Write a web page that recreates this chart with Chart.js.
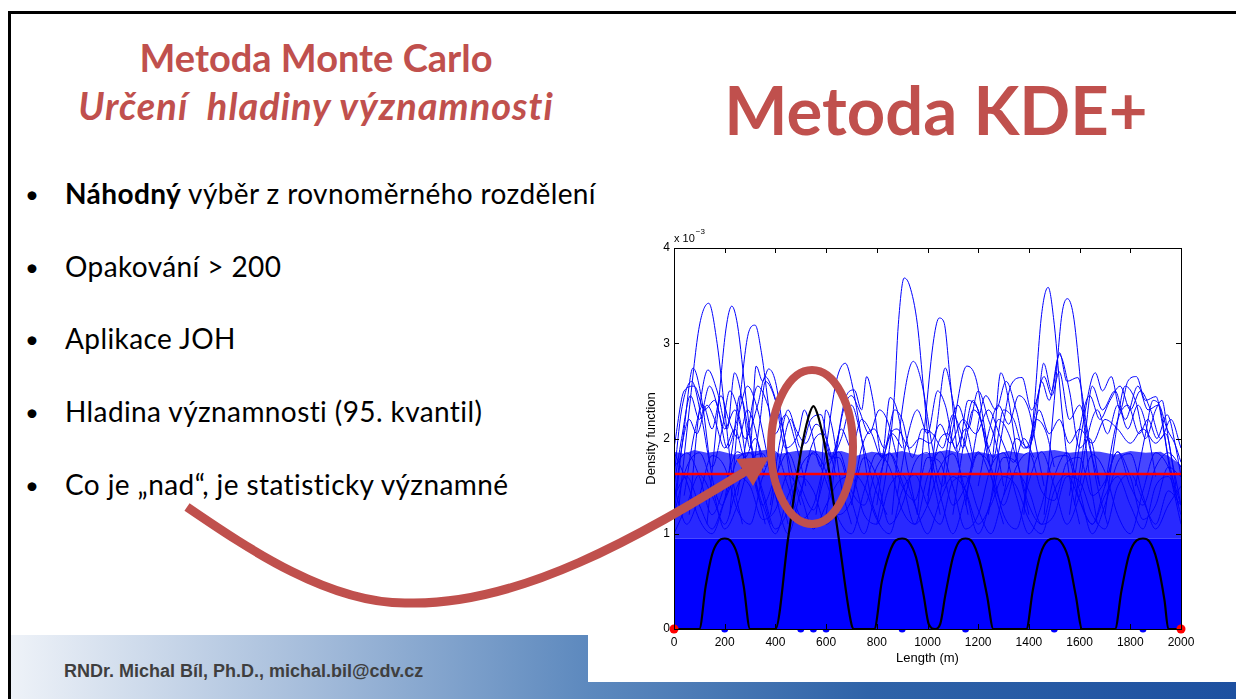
<!DOCTYPE html>
<html>
<head>
<meta charset="utf-8">
<script src="https://cdn.jsdelivr.net/npm/chart.js@4.4.1/dist/chart.umd.min.js"></script>
<style>
  html, body { margin: 0; padding: 0; }
  body { width: 1236px; height: 699px; position: relative; overflow: hidden; background: #fff; font-family: Lato, 'Open Sans', sans-serif; }
  .frame-top { position: absolute; left: 8px; top: 11px; width: 1228px; height: 3px; background: #000; }
  .frame-left { position: absolute; left: 8px; top: 11px; width: 3px; height: 688px; background: #000; }
  .footer { position: absolute; left: 11px; top: 635px; width: 1225px; height: 64px;
    background: linear-gradient(to right, #eef2f8 0%, #a3bbda 25%, #5d89be 47%, #2f63a8 70%, #1d50a0 100%); }
  .footer-text { position: absolute; left: 64px; top: 662px; font: bold 18px 'Liberation Sans', Arial, sans-serif; line-height: 1; color: #3f3f3f; white-space: nowrap; }
  .title { position: absolute; left: 16px; width: 600px; text-align: center; color: #c0504d; font-weight: bold; line-height: 1; white-space: pre; }
  .t1 { top: 38px; font-size: 38px; }
  .t2 { top: 86px; font-size: 38px; font-style: italic; letter-spacing: 1px; }
  .big { position: absolute; left: 636px; width: 600px; top: 76px; text-align: center; color: #c0504d; font-weight: bold; font-size: 67px; line-height: 1; white-space: nowrap; }
  .bullet { position: absolute; left: 0; font-size: 28px; line-height: 1; color: #000; white-space: nowrap; letter-spacing: 0.4px; }
  .bullet .dot { position: absolute; left: 25px; font-size: 24px; top: 3px; }
  .bullet .txt { position: absolute; left: 65px; }
  #chartBox { position: absolute; left: 588px; top: 225px; width: 648px; height: 457px; background: #fff; }
  svg.overlay { position: absolute; left: 0; top: 0; }
</style>
</head>
<body>
<div class="frame-top"></div>
<div class="frame-left"></div>
<div class="footer"></div>
<div class="footer-text">RNDr. Michal Bíl, Ph.D., michal.bil@cdv.cz</div>

<div class="title t1">Metoda Monte Carlo</div>
<div class="title t2">Určení  hladiny významnosti</div>
<div class="big">Metoda KDE+</div>

<div class="bullet" style="top:179px"><span class="dot">•</span><span class="txt"><b>Náhodný</b> výběr z rovnoměrného rozdělení</span></div>
<div class="bullet" style="top:252px"><span class="dot">•</span><span class="txt">Opakování &gt; 200</span></div>
<div class="bullet" style="top:324px"><span class="dot">•</span><span class="txt">Aplikace JOH</span></div>
<div class="bullet" style="top:397px"><span class="dot">•</span><span class="txt">Hladina významnosti (95. kvantil)</span></div>
<div class="bullet" style="top:470px"><span class="dot">•</span><span class="txt">Co je „nad“, je statisticky významné</span></div>

<div id="chartBox"><canvas id="kde" width="648" height="457"></canvas></div>

<svg class="overlay" width="1236" height="699">
  <path d="M187 507 C250 550 330 604 407 603 C520 606 640 536 746 471" stroke="#c0504d" stroke-width="9" fill="none"/>
  <polygon points="736,459 753,486 769,457" fill="#c0504d"/>
  <ellipse cx="812" cy="447" rx="41" ry="77" stroke="#c0504d" stroke-width="8" fill="none"/>
</svg>

<script>
// all densities in units of 10^-3
const threshold = 1.627;
const bandTop = 0.95;
const events = [200, 500, 550, 600, 900, 1150, 1500, 1850];
const endPoints = [0, 2000];

// observed KDE (black)
const kdeObserved = [[0,0],[100,0],[125,0.45],[150,0.78],[175,0.92],[200,0.95],[225,0.92],[250,0.78],[275,0.45],[300,0],
  [400,0],[450,0.95],[500,1.85],[530,2.22],[550,2.34],[570,2.22],[600,1.85],[650,0.95],[700,0.05],[710,0],
  [790,0],[820,0.5],[850,0.8],[875,0.93],[900,0.95],[925,0.92],[955,0.75],[985,0.35],[1005,0.05],[1030,0],[1050,0.05],
  [1070,0.35],[1100,0.75],[1125,0.92],[1150,0.95],[1175,0.92],[1205,0.72],[1235,0.35],[1260,0],
  [1390,0],[1415,0.4],[1445,0.78],[1475,0.93],[1500,0.95],[1525,0.92],[1555,0.75],[1585,0.35],[1610,0],
  [1740,0],[1765,0.4],[1795,0.78],[1825,0.93],[1850,0.95],[1875,0.92],[1905,0.72],[1935,0.3],[1950,0],[2000,0]];

// upper edge of the dense mesh of simulated curves
const meshTop = [[0,1.86],[40,1.84],[80,1.88],[130,1.85],[180,1.87],[240,1.83],[300,1.86],[360,1.88],[420,1.84],[480,1.87],
  [540,1.88],[600,1.85],[660,1.87],[720,1.82],[780,1.86],[840,1.84],[900,1.87],[960,1.83],[1020,1.85],[1080,1.88],
  [1140,1.84],[1200,1.86],[1260,1.83],[1320,1.87],[1380,1.84],[1440,1.86],[1500,1.88],[1560,1.85],[1620,1.87],
  [1680,1.86],[1740,1.83],[1800,1.87],[1860,1.85],[1920,1.86],[1960,1.8],[2000,1.72]];

// simulated curves that stick out of the mesh
const simHigh = [
  [[0,1.2],[40,2.1],[75,2.74],[110,2.4],[150,1.6],[190,1.3],[230,1.9],[260,2.45],[300,2.0],[340,1.5],[380,1.1]],
  [[20,1.3],[60,2.3],[100,3.18],[137,3.42],[170,3.0],[200,2.3],[230,1.6],[270,1.1]],
  [[130,1.1],[170,2.2],[205,3.15],[228,3.39],[250,3.2],[285,2.4],[320,1.6],[360,1.1]],
  [[220,1.2],[260,2.4],[295,3.12],[320,3.19],[345,2.9],[375,2.3],[410,1.6],[450,1.1]],
  [[60,1.2],[100,2.3],[134,2.72],[170,2.5],[210,2.1],[239,2.69],[270,2.4],[300,1.9],[324,2.76],[350,2.6],[373,2.73],[400,2.6],[430,2.1],[470,1.4],[510,1.1]],
  [[0,1.6],[30,2.3],[70,2.6],[110,2.2],[150,1.7],[190,2.1],[220,2.5],[260,2.2],[300,1.6],[340,2.2],[360,2.6],[400,2.4],[440,1.9],[490,2.05],[514,2.3],[540,2.1],[580,1.7],[599,2.3],[625,2.1],[660,1.5],[700,1.1]],
  [[560,1.2],[600,1.9],[640,2.6],[676,2.79],[700,2.6],[740,2.0],[775,1.4],[810,1.1]],
  [[600,1.2],[640,1.9],[680,2.45],[711,2.51],[740,2.3],[760,2.65],[785,2.4],[820,1.8],[852,2.43],[880,2.3],[920,1.7],[960,1.2]],
  [[800,1.1],[840,1.7],[869,2.43],[885,3.2],[908,3.685],[930,3.6],[960,3.2],[985,2.5],[1010,1.8],[1050,1.2]],
  [[860,1.2],[900,2.3],[944,2.81],[980,2.55],[1020,1.9],[1060,1.5],[1100,2.1],[1155,2.76],[1190,2.64],[1220,2.2],[1260,1.5],[1300,1.1]],
  [[960,1.2],[995,2.3],[1025,3.05],[1046,3.265],[1065,3.22],[1090,2.6],[1120,1.8],[1160,1.2]],
  [[1000,1.3],[1040,2.2],[1070,2.74],[1100,2.4],[1140,1.9],[1180,2.3],[1210,2.2],[1250,1.7],[1289,2.69],[1320,2.4],[1360,1.7],[1400,1.2]],
  [[1240,1.2],[1290,2.0],[1331,2.57],[1373,2.64],[1410,2.3],[1440,2.5],[1458,2.79],[1490,2.5],[1521,2.9],[1550,2.6],[1593,2.64],[1630,2.1],[1670,1.5],[1710,1.1]],
  [[1380,1.2],[1420,2.3],[1450,3.3],[1476,3.587],[1500,3.2],[1530,2.3],[1560,1.6],[1600,1.1]],
  [[1460,1.2],[1500,2.4],[1530,3.3],[1552,3.468],[1575,3.3],[1600,2.7],[1630,1.8],[1670,1.1]],
  [[1560,1.2],[1610,2.1],[1662,2.69],[1690,2.5],[1725,2.65],[1760,2.3],[1790,2.6],[1824,2.65],[1860,2.4],[1901,2.44],[1930,2.1],[1960,1.6],[2000,1.1]],
  [[1580,1.3],[1620,2.0],[1650,2.55],[1690,2.3],[1740,2.5],[1780,2.2],[1830,2.55],[1870,2.3],[1910,2.35],[1950,1.8],[1990,1.3]],
  [[1100,1.2],[1140,1.9],[1180,2.4],[1220,2.1],[1260,1.8],[1300,2.3],[1340,2.2],[1380,1.9],[1420,2.05],[1450,2.6],[1480,2.4],[1520,2.88],[1560,2.5],[1600,1.9],[1640,2.0],[1680,1.5]],
  [[700,1.3],[740,1.9],[790,2.1],[830,1.9],[870,2.3],[900,2.2],[940,1.8],[980,2.1],[1020,2.05],[1060,1.9],[1100,2.25],[1140,2.0],[1180,1.7]],
  [[0,1.9],[40,2.5],[80,2.55],[120,2.3],[160,2.4],[200,2.1],[240,2.3],[280,2.0],[330,2.35],[360,2.65],[390,2.5],[420,2.2],[460,1.7],[500,1.3]],
  [[380,1.2],[420,1.8],[460,2.2],[500,1.9],[540,2.2],[580,2.25],[620,1.8],[660,2.0],[700,2.35],[740,2.0],[790,1.5],[840,1.2]],
  [[0,1.3],[30,1.9],[60,2.2],[90,2.05],[130,2.35],[160,2.2],[200,1.9],[240,2.1],[280,1.8],[320,2.0],[360,1.7]],
  [[800,1.3],[840,1.95],[880,2.1],[930,1.9],[970,2.0],[1010,1.95],[1050,2.15],[1090,1.95],[1140,2.2],[1190,2.05],[1240,2.3],[1290,2.0],[1340,1.75],[1380,2.0],[1420,1.8]],
  [[1300,1.4],[1350,2.0],[1400,1.9],[1440,2.3],[1480,2.05],[1520,2.2],[1560,1.95],[1600,2.1],[1650,1.95],[1700,2.2],[1750,2.1],[1800,1.95],[1850,2.1],[1900,1.95],[1940,2.05],[1970,1.7],[2000,1.3]],
  [[1700,1.2],[1740,2.0],[1780,2.55],[1820,2.4],[1860,2.0],[1900,2.3],[1925,2.4],[1950,2.0],[1980,1.5]],
  [[500,1.4],[540,1.9],[580,2.05],[620,1.8],[660,2.1],[700,1.9],[740,2.2],[780,2.05],[820,1.8],[860,2.05],[900,1.9]],
  [[1000,1.4],[1050,2.0],[1080,2.05],[1120,1.85],[1160,2.4],[1200,2.3],[1240,1.9],[1280,2.2],[1320,2.05],[1360,1.7]],
  [[0,1.5],[30,2.0],[65,2.45],[100,2.2],[140,2.55],[175,2.3],[210,1.9],[250,2.2],[290,2.55],[330,2.3],[370,1.8],[410,1.3]],
  [[380,1.3],[420,2.0],[450,2.3],[480,2.1],[520,1.95],[560,2.15],[600,2.0],[640,1.6]],
  [[1150,1.3],[1190,2.0],[1230,2.45],[1270,2.3],[1310,2.6],[1350,2.3],[1390,1.9],[1430,2.2],[1470,2.05],[1500,1.7]],
  [[1560,1.4],[1600,2.1],[1640,2.45],[1680,2.2],[1720,2.4],[1760,2.55],[1800,2.3],[1840,2.5],[1880,2.3],[1920,2.0],[1960,2.2],[2000,1.9]],
  [[1700,1.5],[1745,2.15],[1790,2.35],[1835,2.05],[1870,2.2],[1905,2.0],[1945,2.25],[1980,1.9],[2000,1.6]],
  [[620,1.4],[660,2.2],[700,2.45],[730,2.3],[770,2.05],[810,2.3],[840,2.2],[880,1.8]],
  [[880,1.4],[920,2.0],[960,2.3],[1000,2.05],[1040,2.5],[1070,2.35],[1110,1.9],[1150,2.1],[1180,1.8]],
  [[1380,1.3],[1420,2.2],[1460,2.65],[1490,2.45],[1520,2.7],[1560,2.2],[1600,2.35],[1640,1.9],[1680,1.5]],
  [[40,1.4],[80,2.05],[115,2.35],[150,2.1],[185,2.45],[215,2.2],[255,2.0],[290,2.3],[320,2.1],[355,1.6]],
  [[250,1.4],[290,2.05],[330,2.55],[370,2.35],[400,2.05],[440,2.25],[480,1.95],[520,1.5]],
  [[1050,1.4],[1090,2.1],[1120,2.35],[1160,2.1],[1200,2.5],[1240,2.2],[1270,1.95],[1300,1.5]],
  [[1200,1.5],[1240,2.05],[1280,2.35],[1320,2.15],[1360,2.45],[1400,2.3],[1430,1.9],[1460,1.5]],
  [[1600,1.5],[1630,2.0],[1670,2.3],[1710,2.05],[1750,2.35],[1790,2.1],[1830,2.35],[1870,2.05],[1900,1.6]],
  [[1820,1.5],[1860,2.05],[1890,2.4],[1915,2.35],[1945,2.1],[1975,1.95],[2000,1.75]]
];

// simulated curves inside the mesh, sampled every 50 m
const gridX = [0,50,100,150,200,250,300,350,400,450,500,550,600,650,700,750,800,850,900,950,1000,
  1050,1100,1150,1200,1250,1300,1350,1400,1450,1500,1550,1600,1650,1700,1750,1800,1850,1900,1950,2000];
const simMid = [
  [1.86,1.55,1.15,1.0,1.35,1.78,1.85,1.45,1.05,1.25,1.7,1.84,1.55,1.15,1.0,1.45,1.84,1.7,1.25,1.1,1.6,1.86,1.5,1.05,1.2,1.7,1.85,1.4,1.0,1.3,1.8,1.82,1.35,1.1,1.5,1.86,1.6,1.15,1.3,1.7,1.6],
  [1.2,1.7,1.85,1.5,1.05,1.3,1.75,1.84,1.4,1.0,1.45,1.86,1.65,1.2,1.35,1.8,1.6,1.1,1.3,1.75,1.85,1.4,1.0,1.4,1.84,1.7,1.2,1.05,1.55,1.86,1.5,1.1,1.4,1.83,1.65,1.2,1.0,1.45,1.85,1.7,1.3],
  [1.5,1.1,1.4,1.82,1.7,1.25,1.1,1.6,1.86,1.5,1.15,1.3,1.75,1.8,1.35,1.0,1.5,1.85,1.55,1.1,1.3,1.7,1.84,1.45,1.0,1.35,1.8,1.75,1.3,1.1,1.6,1.85,1.45,1.0,1.3,1.75,1.84,1.4,1.05,1.3,1.5],
  [1.0,1.3,1.62,1.4,1.1,1.5,1.65,1.3,1.0,1.4,1.6,1.45,1.1,1.3,1.64,1.5,1.15,1.0,1.45,1.62,1.3,1.1,1.55,1.6,1.25,1.0,1.4,1.64,1.45,1.1,1.2,1.6,1.55,1.2,1.05,1.5,1.63,1.35,1.1,1.45,1.3],
  [1.4,1.6,1.3,1.05,1.35,1.6,1.5,1.15,1.25,1.62,1.4,1.05,1.3,1.55,1.6,1.2,1.1,1.5,1.62,1.3,1.0,1.35,1.6,1.45,1.1,1.3,1.6,1.5,1.15,1.0,1.45,1.62,1.35,1.1,1.4,1.6,1.3,1.05,1.5,1.6,1.2],
  [1.7,1.85,1.6,1.2,1.5,1.86,1.7,1.3,1.6,1.85,1.5,1.25,1.65,1.86,1.45,1.3,1.7,1.84,1.5,1.35,1.8,1.75,1.3,1.5,1.86,1.6,1.3,1.7,1.85,1.45,1.35,1.75,1.8,1.4,1.55,1.86,1.5,1.3,1.7,1.85,1.7]
];

const xTicksMax = 2000, xStep = 200, yMax = 4, yStep = 1;

const pts = arr => arr.map(p => ({ x: p[0], y: p[1] }));
const curveStyle = { borderColor: '#0000ff', borderWidth: 1, pointRadius: 0, cubicInterpolationMode: 'monotone', fill: false, order: 3 };

const datasets = [];
datasets.push({ data: events.map(x => ({ x, y: 0 })), showLine: false, pointRadius: 3.5, pointBackgroundColor: '#0000ff', pointBorderWidth: 0, clip: false, order: 0 });
datasets.push({ data: endPoints.map(x => ({ x, y: 0 })), showLine: false, pointRadius: 4.5, pointBackgroundColor: '#ff0000', pointBorderWidth: 0, clip: false, order: 0 });
datasets.push({ data: [{ x: 0, y: threshold }, { x: xTicksMax, y: threshold }], borderColor: '#ff0000', borderWidth: 2.5, pointRadius: 0, order: 1 });
datasets.push({ data: pts(kdeObserved), borderColor: '#000', borderWidth: 2.2, pointRadius: 0, cubicInterpolationMode: 'monotone', order: 2 });
simHigh.forEach(c => datasets.push(Object.assign({ data: pts(c) }, curveStyle)));
simMid.forEach(c => datasets.push(Object.assign({ data: gridX.map((x, i) => ({ x, y: c[i] })) }, curveStyle)));
// mesh above the threshold is a little thinner than below it
datasets.push({ data: pts(meshTop), borderWidth: 0, pointRadius: 0, fill: { value: threshold }, backgroundColor: 'rgba(0,0,255,0.72)', order: 4 });
datasets.push({ data: [{ x: 0, y: threshold }, { x: xTicksMax, y: threshold }], borderWidth: 0, pointRadius: 0, fill: { value: bandTop }, backgroundColor: 'rgba(0,0,255,0.84)', order: 4 });
datasets.push({ data: [{ x: 0, y: bandTop }, { x: xTicksMax, y: bandTop }], borderWidth: 0, pointRadius: 0, fill: 'origin', backgroundColor: '#0000ff', order: 5 });

const axisFont = { family: "'Liberation Sans', Arial, sans-serif", size: 12 };

// MATLAB style box, inward ticks and the exponent label
const matlabAxes = {
  id: 'matlabAxes',
  afterDraw(chart) {
    const { ctx, chartArea: a, scales: { x, y } } = chart;
    ctx.save();
    ctx.strokeStyle = '#000';
    ctx.lineWidth = 1;
    ctx.strokeRect(Math.round(a.left) + 0.5, Math.round(a.top) + 0.5, Math.round(a.right - a.left), Math.round(a.bottom - a.top));
    ctx.beginPath();
    for (let v = 0; v <= xTicksMax; v += xStep) {
      const px = Math.round(x.getPixelForValue(v)) + 0.5;
      ctx.moveTo(px, a.bottom); ctx.lineTo(px, a.bottom - 5);
      ctx.moveTo(px, a.top); ctx.lineTo(px, a.top + 5);
    }
    for (let v = 0; v <= yMax; v += yStep) {
      const py = Math.round(y.getPixelForValue(v)) + 0.5;
      ctx.moveTo(a.left, py); ctx.lineTo(a.left + 5, py);
      ctx.moveTo(a.right, py); ctx.lineTo(a.right - 5, py);
    }
    ctx.stroke();
    ctx.fillStyle = '#000';
    ctx.font = "11px 'Liberation Sans', Arial, sans-serif";
    ctx.textBaseline = 'alphabetic';
    ctx.fillText('x 10', a.left, a.top - 6);
    const w = ctx.measureText('x 10').width;
    ctx.font = "8px 'Liberation Sans', Arial, sans-serif";
    ctx.fillText('\u22123', a.left + w + 1, a.top - 14);
    ctx.restore();
  }
};

new Chart(document.getElementById('kde'), {
  type: 'line',
  data: { datasets },
  options: {
    responsive: false,
    animation: false,
    devicePixelRatio: 1,
    layout: { padding: { left: 0, right: 55, top: 23, bottom: 0 } },
    plugins: { legend: { display: false }, tooltip: { enabled: false } },
    scales: {
      x: {
        type: 'linear', min: 0, max: xTicksMax,
        ticks: { stepSize: xStep, color: '#000', font: axisFont, padding: 6, maxRotation: 0, callback: v => String(v) },
        grid: { display: true, drawOnChartArea: false, drawTicks: false },
        border: { display: false },
        title: { display: true, text: 'Length (m)', color: '#000', font: { family: axisFont.family, size: 13 }, padding: { top: 0, bottom: 16 } },
        afterFit: s => { s.height = 53; }
      },
      y: {
        type: 'linear', min: 0, max: yMax,
        ticks: { stepSize: yStep, color: '#000', font: axisFont, padding: 4, callback: v => String(v) },
        grid: { display: true, drawOnChartArea: false, drawTicks: false },
        border: { display: false },
        title: { display: true, text: 'Density function', color: '#000', font: { family: axisFont.family, size: 13 }, padding: { top: 56, bottom: 0 } },
        afterFit: s => { s.width = 86; }
      }
    }
  },
  plugins: [matlabAxes]
});
</script>
</body>
</html>
